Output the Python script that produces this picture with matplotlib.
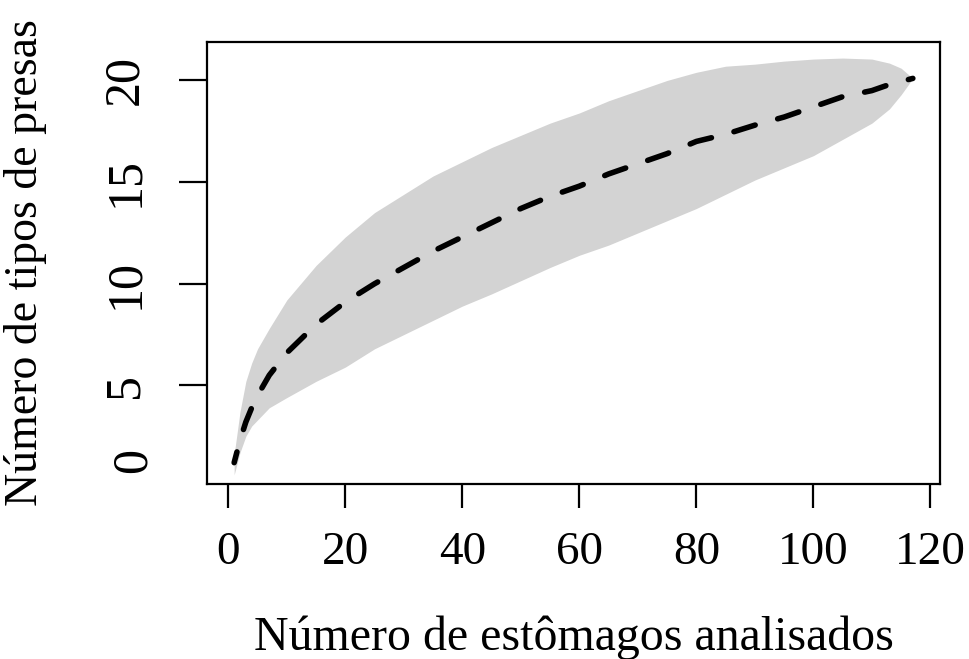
import matplotlib
matplotlib.use("Agg")
import matplotlib.pyplot as plt
import matplotlib.transforms as mtransforms

# curva de acumulação de presas
n_estomagos = [1, 2, 3, 4, 5, 7, 10, 15, 20, 25, 30, 35, 40, 45, 50, 55, 60,
               65, 70, 75, 80, 85, 90, 95, 100, 105, 110, 113, 115, 117]
media = [1.2, 2.3, 3.2, 3.9, 4.5, 5.5, 6.6, 8.0, 9.1, 10.0, 10.8, 11.6, 12.3,
         13.0, 13.7, 14.3, 14.8, 15.4, 15.9, 16.4, 17.0, 17.35, 17.8, 18.2,
         18.7, 19.2, 19.5, 19.8, 19.95, 20.1]
superior = [1.6, 3.7, 5.2, 6.1, 6.8, 7.8, 9.2, 10.9, 12.3, 13.5, 14.4, 15.3,
            16.0, 16.7, 17.3, 17.9, 18.4, 19.0, 19.5, 20.0, 20.4, 20.7, 20.8,
            20.95, 21.05, 21.1, 21.05, 20.85, 20.6, 20.1]
inferior = [0.6, 1.7, 2.5, 3.0, 3.3, 3.9, 4.4, 5.2, 5.9, 6.8, 7.5, 8.2, 8.9,
            9.5, 10.15, 10.8, 11.4, 11.9, 12.5, 13.1, 13.7, 14.4, 15.1, 15.7,
            16.3, 17.1, 17.9, 18.6, 19.3, 20.1]

xticks = [0, 20, 40, 60, 80, 100, 120]
yticks = [5, 10, 15, 20]

plt.rcParams['font.family'] = ['Liberation Serif', 'DejaVu Serif']

fig = plt.figure(figsize=(9.69, 6.59), dpi=100)
ax = fig.add_axes([207 / 969, 1 - 484 / 659, (940 - 207) / 969, (484 - 42) / 659])

ax.fill_between(n_estomagos, inferior, superior, color='#d3d3d3', linewidth=0)
ax.plot(n_estomagos, media, color='black', linewidth=4,
        linestyle=(2.0, (4.0, 4.2)), dash_capstyle='round')

ax.set_xlim(-3.64, 121.64)
ax.set_ylim(0.15, 21.89)
ax.set_xticks(xticks)
ax.set_yticks(yticks)
ax.set_yticklabels([str(v) for v in yticks], rotation=90, va='center')

for s in ax.spines.values():
    s.set_linewidth(1.6)
ax.tick_params(axis='x', length=17, width=1.6, pad=17, labelsize=34)
ax.tick_params(axis='y', length=20, width=1.6, pad=22, labelsize=36)

# rótulo "0" do eixo y (sem marca de tick)
trans = mtransforms.blended_transform_factory(ax.transAxes, ax.transData)
ax.text(-0.101, 1.3, '0', transform=trans, rotation=90, fontsize=36,
        ha='center', va='center')

ax.set_xlabel('Número de estômagos analisados', fontsize=34.5, labelpad=30)
ax.set_ylabel('Número de tipos de presas', fontsize=33, labelpad=40)

fig.savefig('out.png', dpi=100)
